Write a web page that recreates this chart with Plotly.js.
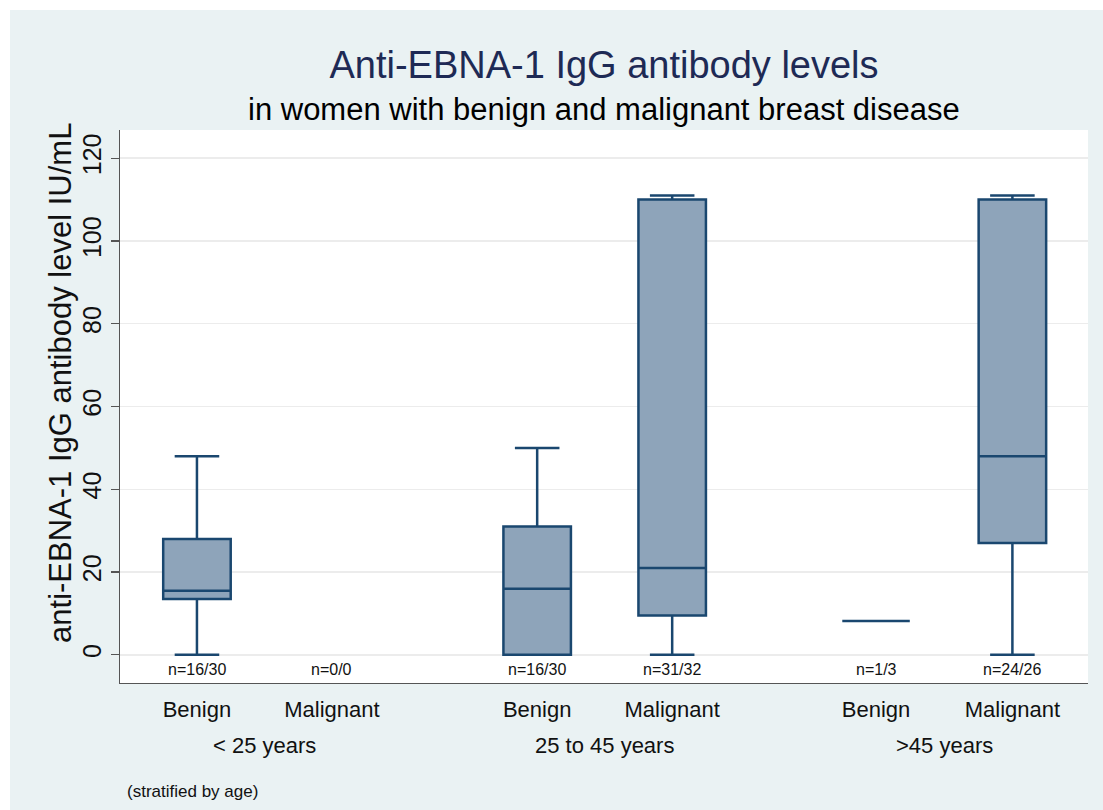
<!DOCTYPE html>
<html>
<head>
<meta charset="utf-8">
<script src="https://cdn.plot.ly/plotly-3.0.1.min.js"></script>
<style>
  html, body { margin: 0; padding: 0; background: #ffffff; width: 1103px; height: 810px; overflow: hidden; }
  #chart { position: absolute; left: 10px; top: 10px; width: 1093px; height: 800px; }
</style>
</head>
<body>
<div id="chart"></div>
<script>
// ---- data ----
const groupLabels = ["< 25 years", "25 to 45 years", ">45 years"];
const diagnosis   = ["Benign", "Malignant", "Benign", "Malignant", "Benign", "Malignant"];
const groupOfBox  = [0, 0, 1, 1, 2, 2];
const nLabels     = ["n=16/30", "n=0/0", "n=16/30", "n=31/32", "n=1/3", "n=24/26"];
const lowerWhisker = [0,    null, 0,  0,   8.2, 0];
const q1Values     = [13.5, null, 0,  9.5, 8.2, 27];
const medianValues = [15.5, null, 16, 21,  8.2, 48];
const q3Values     = [28,   null, 31, 110, 8.2, 110];
const upperWhisker = [48,   null, 50, 111, 8.2, 111];
const yTickValues  = [0, 20, 40, 60, 80, 100, 120];
const yTitle = "anti-EBNA-1 IgG antibody level IU/mL";

// ---- layout positions (slot positions on a numeric x axis) ----
const slotPos = [0, 1, 2.52, 3.52, 5.03, 6.04];

const idx = q1Values.map((v, i) => i).filter(i => q1Values[i] !== null);

const boxTrace = {
  type: "box",
  x: idx.map(i => slotPos[i]),
  q1: idx.map(i => q1Values[i]),
  median: idx.map(i => medianValues[i]),
  q3: idx.map(i => q3Values[i]),
  lowerfence: idx.map(i => lowerWhisker[i]),
  upperfence: idx.map(i => upperWhisker[i]),
  width: 0.5,
  whiskerwidth: 0.66,
  fillcolor: "#8ea4ba",
  line: { color: "#1a476f", width: 2.5 },
  boxpoints: false,
  showlegend: false,
  hoverinfo: "y"
};

const font = "'Liberation Sans', Arial, Helvetica, sans-serif";

const annotations = [];
// n labels inside the plot, just above the x axis
nLabels.forEach((t, i) => {
  annotations.push({
    x: slotPos[i], y: -3.6, xref: "x", yref: "y",
    text: t, showarrow: false,
    font: { family: font, size: 16, color: "#111" },
    xanchor: "center", yanchor: "middle"
  });
});
// group labels
groupLabels.forEach((g, gi) => {
  const members = slotPos.filter((p, i) => groupOfBox[i] === gi);
  const cx = (members[0] + members[members.length - 1]) / 2;
  annotations.push({
    x: cx, y: -0.1139, xref: "x", yref: "paper",
    text: g, showarrow: false,
    font: { family: font, size: 22, color: "#111" },
    xanchor: "center", yanchor: "middle"
  });
});
// subtitle
annotations.push({
  x: 0.5, y: 1.0362, xref: "paper", yref: "paper",
  text: "in women with benign and malignant breast disease", showarrow: false,
  font: { family: font, size: 31, color: "#000" },
  xanchor: "center", yanchor: "middle"
});
// y axis title (placed as in the reference, slightly above the plot centre)
annotations.push({
  x: -0.061, y: 0.5425, xref: "paper", yref: "paper",
  text: yTitle, showarrow: false, textangle: -90,
  font: { family: font, size: 31, color: "#111" },
  xanchor: "center", yanchor: "middle"
});
// note
annotations.push({
  x: 0.005, y: -0.197, xref: "paper", yref: "paper",
  text: "(stratified by age)", showarrow: false,
  font: { family: font, size: 17, color: "#111" },
  xanchor: "left", yanchor: "middle"
});

const layout = {
  width: 1093, height: 800,
  paper_bgcolor: "#eaf2f3",
  plot_bgcolor: "#ffffff",
  margin: { l: 110, r: 15, t: 120, b: 127 },
  font: { family: font, color: "#111" },
  title: {
    text: "Anti-EBNA-1 IgG antibody levels",
    font: { family: font, size: 38, color: "#1e2a55" },
    x: 0.5, xref: "paper", xanchor: "center",
    y: 1 - 55 / 800, yref: "container", yanchor: "middle"
  },
  xaxis: {
    range: [-0.57, 6.6],
    tickvals: slotPos,
    ticktext: diagnosis,
    ticks: "",
    ticklabelstandoff: 6,
    tickfont: { family: font, size: 22, color: "#111" },
    showgrid: false,
    zeroline: false,
    showline: true, linecolor: "#555", linewidth: 1.3
  },
  yaxis: {
    range: [-6.8, 126.8],
    tickvals: yTickValues,
    ticks: "outside", ticklen: 8, tickcolor: "#555", tickwidth: 1.2,
    tickangle: -90,
    tickfont: { family: font, size: 25, color: "#111" },
    showgrid: true, gridcolor: "#ececec", gridwidth: 1.5,
    zeroline: false,
    showline: true, linecolor: "#555", linewidth: 1.3
  },
  annotations: annotations
};

Plotly.newPlot("chart", [boxTrace], layout, { displayModeBar: false, staticPlot: true });
</script>
</body>
</html>
